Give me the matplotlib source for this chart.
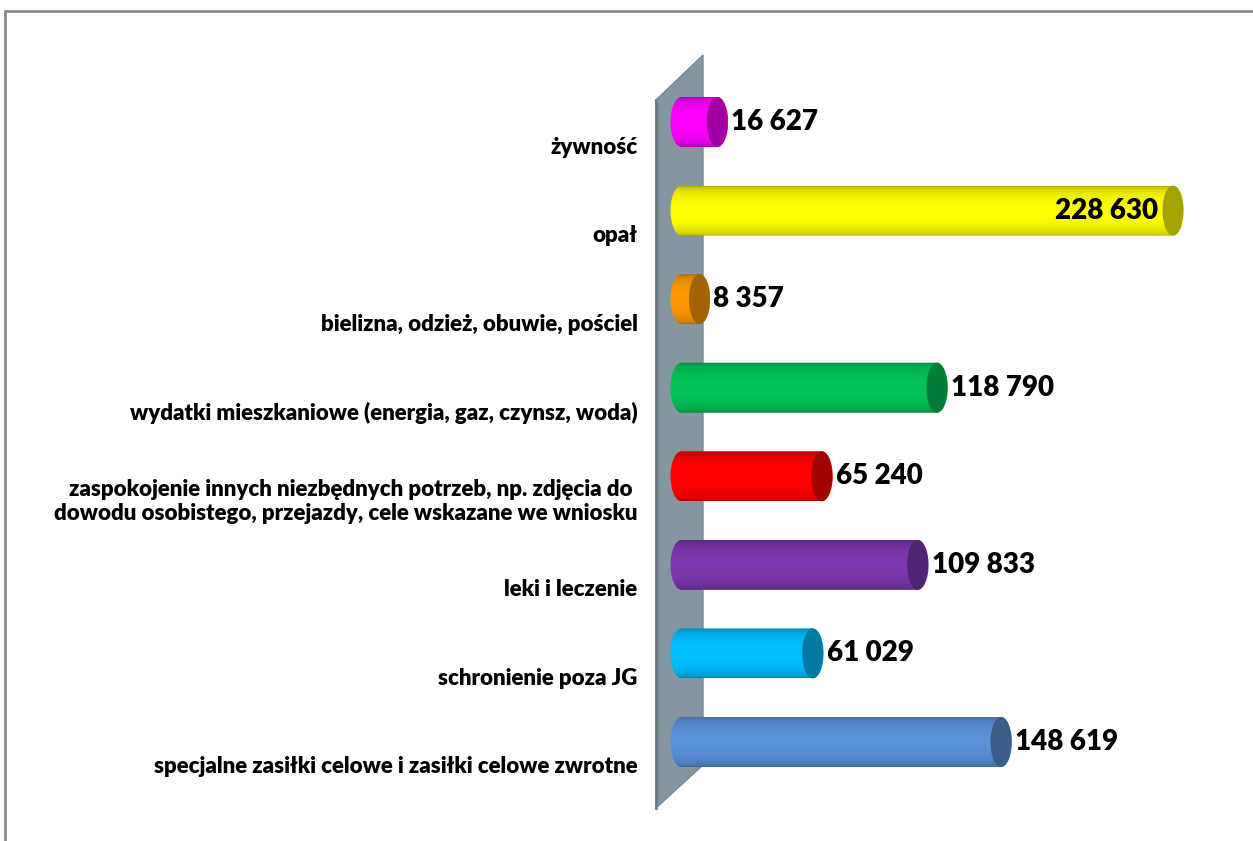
import matplotlib.pyplot as plt
import numpy as np
from matplotlib.patches import PathPatch, Ellipse, Polygon
from matplotlib.path import Path
from matplotlib.colors import to_rgb

categories = ['żywność', 'opał', 'bielizna, odzież, obuwie, pościel',
              'wydatki mieszkaniowe (energia, gaz, czynsz, woda)',
              'zaspokojenie innych niezbędnych potrzeb, np. zdjęcia do \n'
              'dowodu osobistego, przejazdy, cele wskazane we wniosku',
              'leki i leczenie', 'schronienie poza JG',
              'specjalne zasiłki celowe i zasiłki celowe zwrotne']
values = [16627, 228630, 8357, 118790, 65240, 109833, 61029, 148619]
colors = ['#FF00FF', '#FFFF00', '#FF9900', '#00C356', '#FF0000',
          '#7C38B0', '#00BFFF', '#5A92D8']

W, H = 1253, 841
PX_PER_UNIT = 0.0021497   # horizontal scale
X0 = 681.5                # pixel x of value 0
ROW0, ROW_PX = 122, 88.57 # pixel y of first row and row spacing

fig = plt.figure(figsize=(W / 100, H / 100), dpi=100)
ax = fig.add_axes([0, 0, 1, 1])
ax.axis('off')


def px(x, y):
    # pixel position -> data coords (for the frame/wall decoration)
    return (x - X0) / PX_PER_UNIT, (y - ROW0) / ROW_PX


# outer frame (cut at right and bottom)
ax.plot(*zip(px(5, 841), px(5, 10.5), px(1253, 10.5)), color='#8c8c8c', lw=2,
        solid_joinstyle='miter', zorder=1)

# side wall
wall = Polygon([px(656, 100), px(703, 55), px(703, 765), px(656, 808)],
               closed=True, facecolor='#8497A0', edgecolor='#7a8a93', lw=1, zorder=1)
ax.add_patch(wall)
ax.plot(*zip(px(656.5, 100), px(656.5, 808)), color='#6c7a82', lw=2, zorder=1)

a = 11 / PX_PER_UNIT   # cap half width in data units
h = 25 / ROW_PX        # half bar thickness in rows

t = np.linspace(-1, 1, 200)
shade = 0.6 + 0.4 * (1 - t ** 2) ** 0.35
th = np.linspace(np.pi / 2, 3 * np.pi / 2, 60)

for i, (v, c) in enumerate(zip(values, colors)):
    base = np.array(to_rgb(c))
    # body outline: left half ellipse + right half ellipse
    left = np.column_stack([a * np.cos(th), i - h * np.sin(th)])
    right = np.column_stack([v - a * np.cos(th), i + h * np.sin(th)])
    verts = np.vstack([left, right, left[:1]])
    body = PathPatch(Path(verts), facecolor='none', edgecolor='none', zorder=2)
    ax.add_patch(body)
    grad = np.clip(base[None, None, :] * shade[:, None, None], 0, 1)
    im = ax.imshow(grad, extent=[-a, v + a, i + h, i - h], aspect='auto',
                   interpolation='bilinear', zorder=2)
    im.set_clip_path(body)
    cap = Ellipse((v, i), 2 * a * 0.95, 2 * h, facecolor=base * 0.64,
                  edgecolor='none', zorder=3)
    ax.add_patch(cap)

    lab = f'{v:,}'.replace(',', ' ')
    if v == max(values):
        ax.text(v - a - 4 / PX_PER_UNIT, i, lab, ha='right', va='center',
                fontsize=20, fontweight='heavy', family='Lato', zorder=4)
    else:
        ax.text(v + a + 3 / PX_PER_UNIT, i, lab, ha='left', va='center',
                fontsize=20, fontweight='heavy', family='Lato', zorder=4)

    ax.text(-44 / PX_PER_UNIT, i + 25 / ROW_PX, categories[i], ha='right',
            va='center', multialignment='right', fontsize=16, fontweight='heavy',
            family='Lato', linespacing=1.2)

ax.set_xlim(-X0 / PX_PER_UNIT, (W - X0) / PX_PER_UNIT)
ax.set_ylim((H - ROW0) / ROW_PX, -ROW0 / ROW_PX)

fig.savefig('out.png', dpi=100)
